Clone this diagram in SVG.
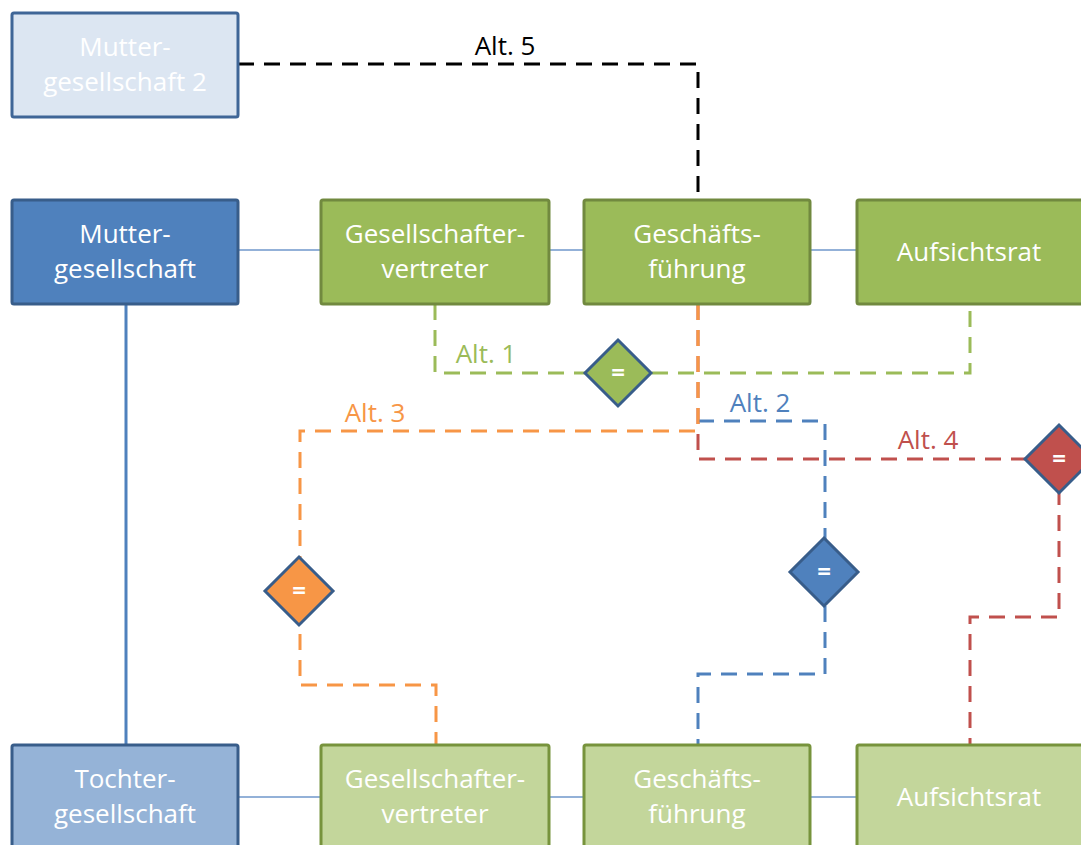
<svg xmlns="http://www.w3.org/2000/svg" width="1081" height="845" viewBox="0 0 1081 845">
<style>
text{font-family:"Open Sans","Liberation Sans",sans-serif;font-size:26px;text-anchor:middle}
.box text{fill:#ffffff}
.box rect{stroke-width:3}
.blueD{fill:#4f81bd;stroke:#385d8a}
.blueL{fill:#95b3d7;stroke:#385d8a}
.blueP{fill:#dce6f2;stroke:#3f6697}
.grD{fill:#9bbb59;stroke:#71893f}
.grL{fill:#c3d69b;stroke:#77933c}
.link{stroke:#6f97cb;stroke-width:1.5;fill:none}
.dash{fill:none;stroke-width:3;stroke-dasharray:16 10}
.dia{stroke:#385d8a;stroke-width:3}
.eq{fill:#ffffff;font-size:24px;font-weight:bold}
.lbl{font-size:26px}
</style>
<g id="connectors">
<line class="link" x1="238" y1="250" x2="321" y2="250"/>
<line class="link" x1="549" y1="250" x2="584" y2="250"/>
<line class="link" x1="810" y1="250" x2="857" y2="250"/>
<line class="link" x1="238" y1="797" x2="321" y2="797"/>
<line class="link" x1="549" y1="797" x2="584" y2="797"/>
<line class="link" x1="810" y1="797" x2="857" y2="797"/>
<line x1="126" y1="304" x2="126" y2="745" stroke="#4f81bd" stroke-width="3"/>
<path class="dash" stroke="#000000" d="M238,64 H698 V200"/>
<path class="dash" stroke="#9bbb59" d="M435,304 V373 H970 V304"/>
<path class="dash" stroke="#c0504d" d="M698,304 V459 H1059 V617 H970 V745"/>
<path class="dash" stroke="#4f81bd" d="M698,421 H825 V674 H698 V745"/>
<path class="dash" stroke="#f79646" d="M698,304 V431 H300 V685 H436 V745"/>
<text class="lbl" x="505" y="55" fill="#000000">Alt. 5</text>
<text class="lbl" x="486" y="363" fill="#9bbb59">Alt. 1</text>
<text class="lbl" x="760" y="412" fill="#4f81bd">Alt. 2</text>
<text class="lbl" x="375" y="422" fill="#f79646">Alt. 3</text>
<text class="lbl" x="928" y="449" fill="#c0504d">Alt. 4</text>
</g>
<g id="mg2" class="box"><rect class="blueP" x="12" y="13" width="226" height="104" rx="2"/><text x="125" y="56">Mutter-</text><text x="125" y="91">gesellschaft 2</text></g>
<g id="mg" class="box"><rect class="blueD" x="12" y="200" width="226" height="104" rx="2"/><text x="125" y="243">Mutter-</text><text x="125" y="278">gesellschaft</text></g>
<g id="gv1" class="box"><rect class="grD" x="321" y="200" width="228" height="104" rx="2"/><text x="435" y="243">Gesellschafter-</text><text x="435" y="278">vertreter</text></g>
<g id="gf1" class="box"><rect class="grD" x="584" y="200" width="226" height="104" rx="2"/><text x="697" y="243">Geschäfts-</text><text x="697" y="278">führung</text></g>
<g id="ar1" class="box"><rect class="grD" x="857" y="200" width="226" height="104" rx="2"/><text x="969" y="261">Aufsichtsrat</text></g>
<g id="tg" class="box"><rect class="blueL" x="12" y="745" width="226" height="104" rx="2"/><text x="125" y="788">Tochter-</text><text x="125" y="823">gesellschaft</text></g>
<g id="gv2" class="box"><rect class="grL" x="321" y="745" width="228" height="104" rx="2"/><text x="435" y="788">Gesellschafter-</text><text x="435" y="823">vertreter</text></g>
<g id="gf2" class="box"><rect class="grL" x="584" y="745" width="226" height="104" rx="2"/><text x="697" y="788">Geschäfts-</text><text x="697" y="823">führung</text></g>
<g id="ar2" class="box"><rect class="grL" x="857" y="745" width="226" height="104" rx="2"/><text x="969" y="806">Aufsichtsrat</text></g>
<g id="d1"><polygon class="dia" fill="#9bbb59" points="618,340 651,373 618,406 585,373"/><text class="eq" x="618" y="381">=</text></g>
<g id="d2"><polygon class="dia" fill="#4f81bd" points="824,538 858,572 824,606 790,572"/><text class="eq" x="824" y="580">=</text></g>
<g id="d3"><polygon class="dia" fill="#f79646" points="299,557 333,591 299,625 265,591"/><text class="eq" x="299" y="599">=</text></g>
<g id="d4"><polygon class="dia" fill="#c0504d" points="1059,425 1093,459 1059,493 1025,459"/><text class="eq" x="1059" y="467">=</text></g>
</svg>
